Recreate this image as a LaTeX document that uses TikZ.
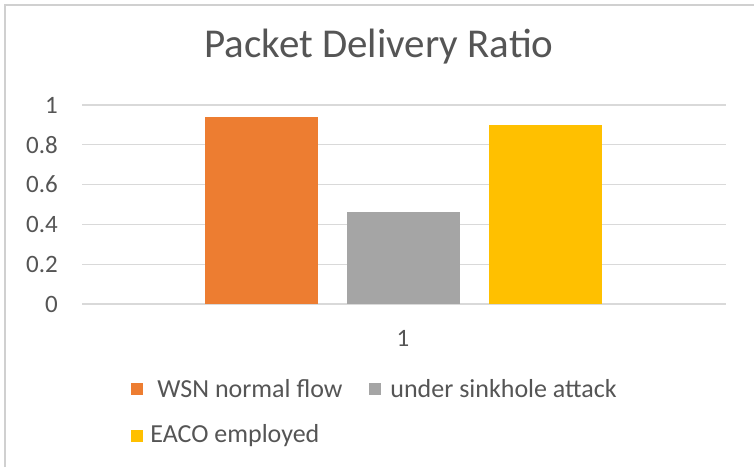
\documentclass[tikz,border=0pt]{standalone}
\usepackage{fontspec}
\setmainfont{Carlito}
\usepackage{tikz}
\usetikzlibrary{positioning}

\definecolor{pdrorange}{HTML}{ED7D31}
\definecolor{pdrgray}{HTML}{A5A5A5}
\definecolor{pdryellow}{HTML}{FFC000}
\definecolor{gridgray}{HTML}{D9D9D9}
\definecolor{framegray}{HTML}{D0D0D0}
\definecolor{txtgray}{HTML}{555555}

\begin{document}
\begin{tikzpicture}[x=1pt,y=-1pt,
  every node/.style={text=txtgray, inner sep=0pt},
  grid/.style={draw=gridgray, line width=1.3pt},
  key/.style={minimum size=12pt, inner sep=0pt},
  ticklab/.style={anchor=east, font=\fontsize{25}{30}\selectfont},
  legtext/.style={anchor=west, font=\fontsize{26}{31}\selectfont}]
\useasboundingbox (0,0) rectangle (754,467);
\draw[framegray, line width=1.5pt] (5,467) -- (5,5) -- (754,5);

\node[font=\fontsize{41}{49}\selectfont] (title) at (379,47) {Packet Delivery Ratio};

\foreach \v in {0,0.2,0.4,0.6,0.8,1}{
  \draw[grid] (82,{304-199*\v}) -- (726,{304-199*\v});
  \node[ticklab] at (58,{304-199*\v}) {\v};
}

\fill[pdrorange] (205,304) rectangle (318,{304-199*0.94});  %normal
\fill[pdrgray] (347,304) rectangle (460,{304-199*0.46});
\fill[pdryellow] (489,304) rectangle (602,{304-199*0.90});

\node[font=\fontsize{25}{30}\selectfont] (cat) at (403,338) {1};

% legend
\node[key, fill=pdrorange] (k1) at (137,389) {};
\node[legtext, right=14pt of k1] (t1) {WSN normal flow};
\node[key, fill=pdrgray] (k2) at (375,389) {};
\node[legtext, right=9pt of k2] (t2) {under sinkhole attack};
\node[key, fill=pdryellow] (k3) at (137,436) {};
\node[legtext, right=7pt of k3] (t3) {EACO employed};
\end{tikzpicture}
\end{document}
